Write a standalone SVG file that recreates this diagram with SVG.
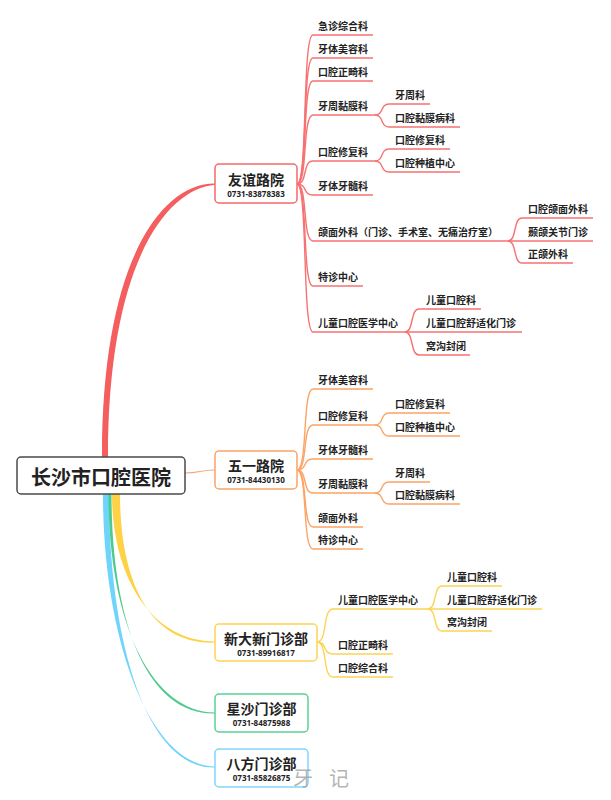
<svg xmlns="http://www.w3.org/2000/svg" width="611" height="800" viewBox="0 0 611 800">
<defs>
<style>
.lbl{font-family:"Noto Sans CJK SC","Noto Sans",sans-serif;font-size:10px;font-weight:bold;fill:#222}
.nm{font-family:"Noto Sans CJK SC","Noto Sans",sans-serif;font-size:14px;font-weight:bold;fill:#222;text-anchor:middle}
.ph{font-family:"Noto Sans","Noto Sans CJK SC",sans-serif;font-size:8px;font-weight:bold;fill:#222;text-anchor:middle}
.root{font-family:"Noto Sans CJK SC","Noto Sans",sans-serif;font-size:20px;font-weight:bold;fill:#222;text-anchor:middle}
.wm{font-family:"Noto Sans CJK SC","Noto Sans",sans-serif;font-size:20px;fill:#9a9a9a;fill-opacity:0.75}
.box{fill:#fff;stroke-width:1.5}
.cr{fill:none;stroke:#f67272;stroke-width:1.4}
.co{fill:none;stroke:#fba466;stroke-width:1.4}
.cy{fill:none;stroke:#fdd455;stroke-width:1.4}
</style>
</defs>
<rect width="611" height="800" fill="#fff"/>
<g id="connectors">
<path d="M102,457 C102,258 163,183 215,183.5 L215,184.8 C167,189 108,262 108,457 Z" fill="#f45e5e"/>
<path d="M185,473 C200,473 200,470 215,470" fill="none" stroke="#fba466" stroke-width="1.2"/>
<path d="M112,494 C112,575 150,641 215,641.5 L215,642.6 C146,645 120,575 120,494 Z" fill="#fdd245"/>
<path d="M103,494 C103,640 150,766 215,766.5 L215,767.6 C146,769 109,640 109,494 Z" fill="#6fd4fb"/>
<path d="M108.5,494 C108.5,620 150,712 215,712.5 L215,713.5 C146,715 111.5,620 111.5,494 Z" fill="#4ccb8c"/>
<path class="cr" d="M297,184 C308,184 302,35 313,35 L373,35"/>
<path class="cr" d="M297,184 C308,184 302,58 313,58 L373,58"/>
<path class="cr" d="M297,184 C308,184 302,81 313,81 L373,81"/>
<path class="cr" d="M297,184 C308,184 302,115 313,115 L375,115"/>
<path class="cr" d="M297,184 C308,184 302,161 313,161 L375,161"/>
<path class="cr" d="M297,184 C308,184 302,195 313,195 L373,195"/>
<path class="cr" d="M297,184 C308,184 302,241 313,241 L508,241"/>
<path class="cr" d="M297,184 C308,184 302,286 313,286 L363,286"/>
<path class="cr" d="M297,184 C308,184 302,332 313,332 L405,332"/>
<path class="cr" d="M375,115 C384,115 380,104 389,104 L430,104"/>
<path class="cr" d="M375,115 C384,115 380,127 389,127 L460,127"/>
<path class="cr" d="M375,161 C384,161 380,149 389,149 L450,149"/>
<path class="cr" d="M375,161 C384,161 380,172 389,172 L460,172"/>
<path class="cr" d="M508,241 C517,241 513,218 522,218 L593,218"/>
<path class="cr" d="M508,241 L593,241"/>
<path class="cr" d="M508,241 C517,241 513,263 522,263 L573,263"/>
<path class="cr" d="M405,332 C414,332 410,309 419,309 L481,309"/>
<path class="cr" d="M405,332 L522,332"/>
<path class="cr" d="M405,332 C414,332 410,355 419,355 L470,355"/>
<path class="co" d="M297,470 C308,470 302,389 313,389 L373,389"/>
<path class="co" d="M297,470 C308,470 302,425 313,425 L375,425"/>
<path class="co" d="M297,470 C308,470 302,459 313,459 L373,459"/>
<path class="co" d="M297,470 C308,470 302,493 313,493 L375,493"/>
<path class="co" d="M297,470 C308,470 302,527 313,527 L363,527"/>
<path class="co" d="M297,470 C308,470 302,549 313,549 L363,549"/>
<path class="co" d="M375,425 C384,425 380,413 389,413 L450,413"/>
<path class="co" d="M375,425 C384,425 380,436 389,436 L460,436"/>
<path class="co" d="M375,493 C384,493 380,482 389,482 L430,482"/>
<path class="co" d="M375,493 C384,493 380,504 389,504 L460,504"/>
<path class="cy" d="M317,642 C328,642 322,609 333,609 L428,609"/>
<path class="cy" d="M317,642 C328,642 322,654 333,654 L393,654"/>
<path class="cy" d="M317,642 C328,642 322,677 333,677 L393,677"/>
<path class="cy" d="M428,609 C437,609 433,586 442,586 L502,586"/>
<path class="cy" d="M428,609 L542,609"/>
<path class="cy" d="M428,609 C437,609 433,631 442,631 L492,631"/>
</g>
<g id="root">
<rect x="17" y="457" width="168" height="37" rx="4" fill="#fff" stroke="#4a4a4a" stroke-width="1.5"/>
<text class="root" x="101" y="485">长沙市口腔医院</text>
</g>
<g id="n-youyi">
<rect class="box" x="215" y="164" width="82" height="39" rx="4" stroke="#f46a6a"/>
<text class="nm" x="256" y="185">友谊路院</text>
<text class="ph" x="256" y="196.5">0731-83878383</text>
</g>
<g id="n-wuyi">
<rect class="box" x="215" y="451" width="82" height="38" rx="4" stroke="#fba466"/>
<text class="nm" x="256" y="471">五一路院</text>
<text class="ph" x="256" y="482.5">0731-84430130</text>
</g>
<g id="n-xindaxin">
<rect class="box" x="215" y="624" width="102" height="37" rx="4" stroke="#fdd455"/>
<text class="nm" x="266" y="644">新大新门诊部</text>
<text class="ph" x="266" y="655.5">0731-89916817</text>
</g>
<g id="n-xingsha">
<rect class="box" x="215" y="694" width="93" height="38" rx="4" stroke="#5ccf94"/>
<text class="nm" x="261.5" y="714">星沙门诊部</text>
<text class="ph" x="261.5" y="725.5">0731-84875988</text>
</g>
<g id="n-bafang">
<rect class="box" x="215" y="749" width="93" height="38" rx="4" stroke="#7dd8fb"/>
<text class="nm" x="261.5" y="769">八方门诊部</text>
<text class="ph" x="261.5" y="780.5">0731-85826875</text>
</g>
<g id="youyi-children">
<text class="lbl" x="318" y="30">急诊综合科</text>
<text class="lbl" x="318" y="53">牙体美容科</text>
<text class="lbl" x="318" y="76">口腔正畸科</text>
<text class="lbl" x="318" y="110">牙周黏膜科</text>
<text class="lbl" x="395" y="99">牙周科</text>
<text class="lbl" x="395" y="122">口腔黏膜病科</text>
<text class="lbl" x="318" y="156">口腔修复科</text>
<text class="lbl" x="395" y="144">口腔修复科</text>
<text class="lbl" x="395" y="167">口腔种植中心</text>
<text class="lbl" x="318" y="190">牙体牙髓科</text>
<text class="lbl" x="318" y="236">颌面外科（门诊、手术室、无痛治疗室）</text>
<text class="lbl" x="528" y="213">口腔颌面外科</text>
<text class="lbl" x="528" y="236">颞颌关节门诊</text>
<text class="lbl" x="528" y="258">正颌外科</text>
<text class="lbl" x="318" y="281">特诊中心</text>
<text class="lbl" x="318" y="327">儿童口腔医学中心</text>
<text class="lbl" x="426" y="304">儿童口腔科</text>
<text class="lbl" x="426" y="327">儿童口腔舒适化门诊</text>
<text class="lbl" x="426" y="350">窝沟封闭</text>
</g>
<g id="wuyi-children">
<text class="lbl" x="318" y="384">牙体美容科</text>
<text class="lbl" x="318" y="420">口腔修复科</text>
<text class="lbl" x="395" y="408">口腔修复科</text>
<text class="lbl" x="395" y="431">口腔种植中心</text>
<text class="lbl" x="318" y="454">牙体牙髓科</text>
<text class="lbl" x="318" y="488">牙周黏膜科</text>
<text class="lbl" x="395" y="477">牙周科</text>
<text class="lbl" x="395" y="499">口腔黏膜病科</text>
<text class="lbl" x="318" y="522">颌面外科</text>
<text class="lbl" x="318" y="544">特诊中心</text>
</g>
<g id="xindaxin-children">
<text class="lbl" x="338" y="604">儿童口腔医学中心</text>
<text class="lbl" x="447" y="581">儿童口腔科</text>
<text class="lbl" x="447" y="604">儿童口腔舒适化门诊</text>
<text class="lbl" x="447" y="626">窝沟封闭</text>
<text class="lbl" x="338" y="649">口腔正畸科</text>
<text class="lbl" x="338" y="672">口腔综合科</text>
</g>
<text class="wm"><tspan x="293" y="786">牙</tspan><tspan x="329" y="786">记</tspan></text>
</svg>
